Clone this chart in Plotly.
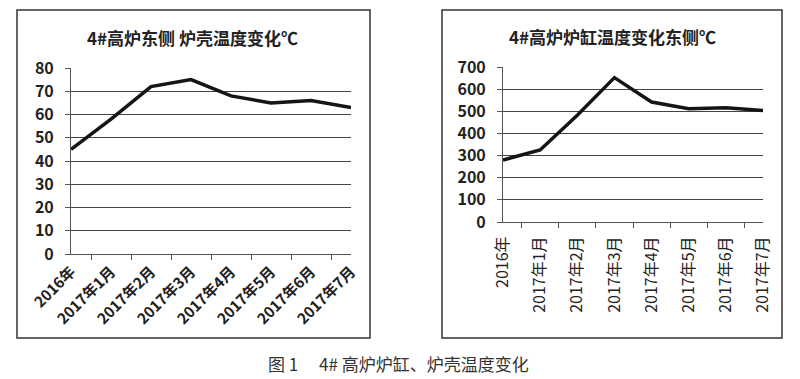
import plotly.graph_objects as go

categories = ["2016年", "2017年1月", "2017年2月", "2017年3月", "2017年4月", "2017年5月", "2017年6月", "2017年7月"]
shell_temp = [45, 58, 72, 75, 68, 65, 66, 63]
hearth_temp = [280, 325, 482, 652, 542, 512, 516, 504]
left_title = "4#高炉东侧 炉壳温度变化℃"
right_title = "4#高炉炉缸温度变化东侧℃"
caption = "图 1　 4# 高炉炉缸、炉壳温度变化"

W, H = 800, 379
def fx(p): return p / W
def fy(p): return 1 - p / H

fig = go.Figure()
fig.add_trace(go.Scatter(x=categories, y=shell_temp, mode="lines",
                         line=dict(color="#151515", width=3.5), xaxis="x", yaxis="y", showlegend=False))
fig.add_trace(go.Scatter(x=categories, y=hearth_temp, mode="lines",
                         line=dict(color="#151515", width=3.5), xaxis="x2", yaxis="y2", showlegend=False))

font_cjk = "Noto Sans CJK SC, Noto Sans, sans-serif"
axis_common = dict(showline=True, linecolor="#555", linewidth=1, ticks="outside", ticklen=5,
                   tickcolor="#555", zeroline=False, automargin=False)

fig.update_layout(
    width=W, height=H, margin=dict(l=0, r=0, t=0, b=0, autoexpand=False),
    paper_bgcolor="white", plot_bgcolor="white",
    xaxis=dict(domain=[fx(71), fx(351)], anchor="y", type="category", tickson="boundaries",
               tickangle=-45, showgrid=False, ticklabelstandoff=2,
               tickfont=dict(family=font_cjk, size=15, color="#222", weight="bold"), **axis_common),
    yaxis=dict(domain=[fy(254), fy(68)], anchor="x", range=[0, 80], dtick=10,
               showgrid=True, gridcolor="#444", gridwidth=1, ticklabelstandoff=8,
               tickfont=dict(family=font_cjk, size=16, color="#222", weight="bold"), **axis_common),
    xaxis2=dict(domain=[fx(503), fx(763)], anchor="y2", type="category", tickson="boundaries",
                tickangle=-90, showgrid=False, ticklabelstandoff=7,
                tickfont=dict(family=font_cjk, size=16, color="#222"), **axis_common),
    yaxis2=dict(domain=[fy(222), fy(67)], anchor="x2", range=[0, 700], dtick=100,
                showgrid=True, gridcolor="#444", gridwidth=1, ticklabelstandoff=8,
                tickfont=dict(family=font_cjk, size=16, color="#222", weight="bold"), **axis_common),
    shapes=[
        dict(type="rect", xref="paper", yref="paper", x0=fx(17), x1=fx(370), y0=fy(338), y1=fy(10),
             line=dict(color="#333", width=1.5)),
        dict(type="rect", xref="paper", yref="paper", x0=fx(442), x1=fx(782), y0=fy(338), y1=fy(10),
             line=dict(color="#333", width=1.5)),
    ],
    annotations=[
        dict(text="<b>" + left_title + "</b>", xref="paper", yref="paper", x=fx(192), y=fy(37),
             xanchor="center", yanchor="middle",
             showarrow=False, font=dict(family=font_cjk, size=17, color="#222")),
        dict(text="<b>" + right_title + "</b>", xref="paper", yref="paper", x=fx(612), y=fy(36),
             xanchor="center", yanchor="middle",
             showarrow=False, font=dict(family=font_cjk, size=17, color="#222")),
        dict(text=caption, xref="paper", yref="paper", x=fx(398), y=fy(363),
             xanchor="center", yanchor="middle",
             showarrow=False, font=dict(family=font_cjk, size=17, color="#333")),
    ],
)

fig.write_html("out.html", config={"displayModeBar": False},
               post_script="document.body.style.margin='0';")
